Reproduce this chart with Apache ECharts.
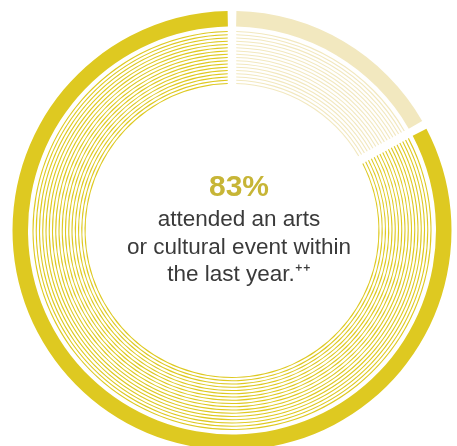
<!DOCTYPE html>
<html>
<head>
<meta charset="utf-8">
<script src="https://cdn.jsdelivr.net/npm/echarts@6/dist/echarts.min.js"></script>
<style>
  html, body { margin: 0; padding: 0; background: #ffffff; }
  #chart { width: 457px; height: 446px; }
</style>
</head>
<body>
<div id="chart"></div>
<script>
// Share of respondents, drawn clockwise from 12 o'clock
const categories = ['Did not attend', 'Attended'];
const shares = [17, 83];
const headline = '83%';
const captionLines = ['attended an arts', 'or cultural event within', 'the last year.⁺⁺'];

const YELLOW = '#dec921';
const PALE = '#f2e8bf';
const CENTER = [232, 230.5];
const GAP_PX = 8.5;          // width of the white split between sectors
const RING_COUNT = 17;       // thin concentric rings inside the main band
const RING_INNER = 147;
const RING_STEP = 3.25;
const LINE_W = 1.1;

const pieData = categories.map((name, i) => ({
  name,
  value: shares[i],
  itemStyle: { color: i === 0 ? PALE : YELLOW }
}));

function ring(r0, r1) {
  const mid = (r0 + r1) / 2;
  return {
    type: 'pie',
    center: CENTER,
    radius: [r0, r1],
    startAngle: 90,
    clockwise: true,
    padAngle: GAP_PX / mid * 180 / Math.PI,
    silent: true,
    label: { show: false },
    labelLine: { show: false },
    emphasis: { disabled: true },
    itemStyle: { borderWidth: 0 },
    data: pieData
  };
}

const series = [ring(204, 219.5)];
for (let i = 0; i < RING_COUNT; i++) {
  const r = RING_INNER + i * RING_STEP;
  series.push(ring(r - LINE_W / 2, r + LINE_W / 2));
}

const font = '"Liberation Sans", Arial, Helvetica, sans-serif';
const textX = 239;
const graphic = [
  {
    type: 'text', x: textX, y: 188,
    style: {
      text: headline, fill: '#c7b536', font: 'bold 30px ' + font,
      textAlign: 'center', textVerticalAlign: 'middle'
    }
  }
].concat(captionLines.map((t, i) => ({
  type: 'text', x: textX, y: 220 + i * 27.5,
  style: {
    text: t, fill: '#3a3a3a', font: '22.5px ' + font,
    textAlign: 'center', textVerticalAlign: 'middle'
  }
})));

const chart = echarts.init(document.getElementById('chart'), null, { renderer: 'canvas' });
chart.setOption({
  backgroundColor: '#ffffff',
  animation: false,
  tooltip: { show: false },
  series,
  graphic
});
</script>
</body>
</html>
